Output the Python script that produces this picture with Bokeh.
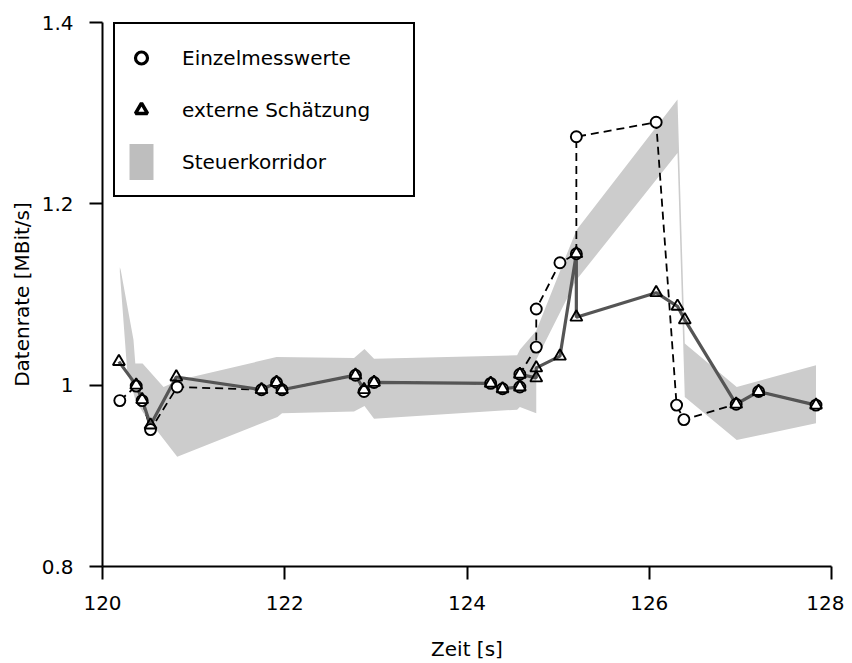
from bokeh.plotting import figure
from bokeh.models import Range1d, FixedTicker, Legend, LegendItem
from bokeh.embed import file_html
from bokeh.resources import INLINE

# ---- data ----
x_ticks = [120, 122, 124, 126, 128]
y_ticks = [0.8, 1.0, 1.2, 1.4]
y_tick_labels = ["0.8", "1", "1.2", "1.4"]

# Einzelmesswerte (circles, dashed line)
meas_t = [120.19, 120.37, 120.435, 120.527, 120.82, 121.745, 121.91, 121.97,
          122.776, 122.87, 122.98, 124.26, 124.39, 124.58, 124.58, 124.76,
          124.76, 125.02, 125.2, 125.2, 126.076, 126.30, 126.38, 126.954,
          127.2, 127.83]
meas_v = [0.983, 0.999, 0.983, 0.951, 0.998, 0.995, 1.003, 0.995,
          1.011, 0.993, 1.003, 1.002, 0.996, 0.998, 1.012, 1.042,
          1.084, 1.135, 1.145, 1.274, 1.290, 0.978, 0.962, 0.979,
          0.993, 0.978]

# externe Schaetzung (triangles, solid grey line)
est_t = [120.18, 120.37, 120.435, 120.527, 120.81, 121.745, 121.91, 121.97,
         122.776, 122.87, 122.98, 124.26, 124.39, 124.58, 124.58, 124.76,
         124.76, 125.02, 125.2, 125.2, 126.076, 126.31, 126.39, 126.954,
         127.2, 127.83]
est_v = [1.026, 1.000, 0.984, 0.956, 1.009, 0.995, 1.003, 0.995,
         1.011, 0.995, 1.003, 1.002, 0.996, 0.998, 1.012, 1.008,
         1.019, 1.032, 1.145, 1.075, 1.102, 1.087, 1.072, 0.979,
         0.993, 0.978]

# Steuerkorridor (band)
band_up_t = [120.19, 120.20, 120.34, 120.36, 120.44, 120.67, 120.85, 121.91,
             122.76, 122.875, 122.98, 124.55, 124.58, 124.76, 125.20, 126.31,
             126.39, 126.96, 127.83]
band_up_v = [1.130, 1.127, 1.050, 1.024, 1.024, 0.998, 1.006, 1.031,
             1.030, 1.040, 1.029, 1.033, 1.039, 1.060, 1.171, 1.315,
             1.046, 0.998, 1.022]
band_lo_t = [120.19, 120.27, 120.36, 120.45, 120.82, 121.92, 121.97, 122.76,
             122.875, 122.98, 124.55, 124.58, 124.76, 124.76, 125.20, 126.31,
             126.39, 126.96, 127.83]
band_lo_v = [1.125, 1.017, 0.984, 0.969, 0.921, 0.965, 0.969, 0.971,
             0.977, 0.963, 0.973, 0.976, 0.969, 1.028, 1.116, 1.256,
             0.987, 0.9395, 0.958]

FONT = "DejaVu Sans"

p = figure(frame_width=729, frame_height=544,
           min_border_left=102, min_border_top=22, min_border_right=13,
           min_border_bottom=70,
           x_range=Range1d(120, 128), y_range=Range1d(0.8, 1.4),
           output_backend="svg", toolbar_location=None)
p.outline_line_color = None
p.grid.visible = False
p.background_fill_color = "white"
p.border_fill_color = "white"

band_x = band_up_t + band_lo_t[::-1]
band_y = band_up_v + band_lo_v[::-1]
p.patch(band_x, band_y, fill_color="#cccccc", line_color=None)

p.line(meas_t, meas_v, line_color="black", line_width=1.8, line_dash="8 5")
p.line(est_t, est_v, line_color="#555555", line_width=3.2)
p.scatter(meas_t, meas_v, marker="circle", size=11, line_color="black",
          line_width=1.9, fill_color="white")
p.scatter(est_t, est_v, marker="triangle", size=12, line_color="black",
          line_width=1.9, fill_color=None)

# legend-only renderers (same data, hidden in the plot)
leg_c = p.scatter(meas_t, meas_v, marker="circle", line_color="black",
                  line_width=3.2, fill_color=None, visible=False)
leg_t = p.scatter(est_t, est_v, marker="triangle", line_color="black",
                  line_width=3.5, fill_color=None, visible=False)
leg_b = p.patch(band_x, band_y, fill_color="#bebebe", line_color=None,
                visible=False)

legend = Legend(items=[LegendItem(label="Einzelmesswerte", renderers=[leg_c]),
                       LegendItem(label="externe Schätzung", renderers=[leg_t]),
                       LegendItem(label="Steuerkorridor", renderers=[leg_b])],
                location=(11, 369))
legend.glyph_width = 30
legend.glyph_height = 45
legend.spacing = 7
legend.padding = 11
legend.margin = 0
legend.label_standoff = 26
legend.label_width = 220
legend.border_line_color = "black"
legend.border_line_alpha = 1
legend.border_line_width = 2
legend.background_fill_color = "white"
legend.background_fill_alpha = 1
legend.label_text_font = FONT
legend.label_text_font_size = "20px"
legend.label_text_color = "black"
p.add_layout(legend)

for ax in (p.xaxis[0], p.yaxis[0]):
    ax.axis_line_width = 2
    ax.axis_line_color = "black"
    ax.major_tick_line_width = 2
    ax.major_tick_line_color = "black"
    ax.major_tick_out = 13
    ax.major_tick_in = 0
    ax.minor_tick_out = 0
    ax.minor_tick_in = 0
    ax.major_label_text_font = FONT
    ax.major_label_text_font_size = "20px"
    ax.major_label_text_color = "black"
    ax.axis_label_text_font = FONT
    ax.axis_label_text_font_size = "20px"
    ax.axis_label_text_font_style = "normal"
    ax.axis_label_text_color = "black"

p.xaxis.ticker = FixedTicker(ticks=x_ticks)
p.yaxis.ticker = FixedTicker(ticks=y_ticks)
p.yaxis.major_label_overrides = {t: l for t, l in zip(y_ticks, y_tick_labels)}
p.xaxis.major_label_standoff = 16
p.yaxis.major_label_standoff = 16
p.xaxis.axis_label = "Zeit [s]"
p.yaxis.axis_label = "Datenrate [MBit/s]"
p.xaxis.axis_label_standoff = 24
p.yaxis.axis_label_standoff = 5

open("out.html", "w").write(file_html(p, INLINE))
